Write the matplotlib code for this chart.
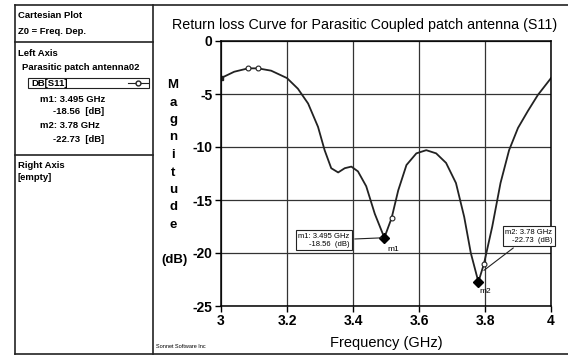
import matplotlib
matplotlib.use("Agg")
import matplotlib.pyplot as plt
from matplotlib.lines import Line2D
from matplotlib.patches import Rectangle

plt.rcParams["font.family"] = ["Liberation Sans", "DejaVu Sans"]
plt.rcParams["axes.unicode_minus"] = False

# S11 magnitude
freq = [3.00, 3.04, 3.082, 3.112, 3.152, 3.20, 3.233, 3.264, 3.294, 3.314,
        3.334, 3.355, 3.375, 3.395, 3.415, 3.44, 3.466, 3.495, 3.517, 3.537,
        3.562, 3.592, 3.622, 3.652, 3.682, 3.712, 3.737, 3.757, 3.78, 3.797,
        3.822, 3.847, 3.873, 3.90, 3.93, 3.96, 4.00]
s11 = [-3.5, -2.9, -2.58, -2.58, -2.8, -3.5, -4.5, -5.9, -8.1, -10.3,
       -12.0, -12.4, -12.0, -11.85, -12.3, -13.7, -16.3, -18.56, -16.7, -14.1,
       -11.7, -10.6, -10.3, -10.6, -11.5, -13.4, -16.6, -20.0, -22.73, -21.0,
       -17.5, -13.4, -10.3, -8.2, -6.6, -5.1, -3.5]

# sample-point circles drawn by the tool
circ_f = [3.082, 3.112, 3.517, 3.797]
circ_v = [-2.58, -2.58, -16.7, -21.0]

markers = [("m1", 3.495, -18.56), ("m2", 3.78, -22.73)]
xticks = [3, 3.2, 3.4, 3.6, 3.8, 4]
yticks = [0, -5, -10, -15, -20, -25]

W, H = 568, 356
fig = plt.figure(figsize=(W / 100, H / 100), dpi=100)


def fx(px):
    return px / W


def fy(py):
    return 1 - py / H


ax = fig.add_axes([fx(221), fy(306), fx(551) - fx(221), fy(41) - fy(306)])
ax.plot(freq, s11, color="#222222", lw=1.3)
ax.plot(circ_f, circ_v, ls="none", marker="o", ms=3.5, mfc="white",
        mec="#222222", mew=0.8)
ax.plot([freq[0]], [s11[0]], ls="none", marker="s", ms=3, color="#222222")
for name, f, v in markers:
    ax.plot([f], [v], ls="none", marker="D", ms=5.5, color="black")

ax.set_xlim(3, 4)
ax.set_ylim(-25, 0)
ax.set_xticks(xticks)
ax.set_xticklabels(["3", "3.2", "3.4", "3.6", "3.8", "4"])
ax.set_yticks(yticks)
ax.tick_params(labelsize=10, length=4, width=1, direction="out", pad=2)
for lab in ax.get_xticklabels() + ax.get_yticklabels():
    lab.set_fontweight("bold")
ax.grid(True, color="#333333", lw=0.9)
for s in ax.spines.values():
    s.set_linewidth(1.1)

# marker callouts
ax.annotate("m1: 3.495 GHz\n-18.56  (dB)", xy=(3.495, -18.56), xytext=(3.311, -18.8),
            ha="center", va="center", fontsize=5.5, multialignment="right",
            bbox=dict(boxstyle="square,pad=0.3", fc="white", ec="#222222", lw=0.8),
            arrowprops=dict(arrowstyle="-", color="#222222", lw=0.8))
ax.annotate("m2: 3.78 GHz\n-22.73  (dB)", xy=(3.79, -21.8), xytext=(3.933, -18.4),
            ha="center", va="center", fontsize=5.5, multialignment="right",
            bbox=dict(boxstyle="square,pad=0.3", fc="white", ec="#222222", lw=0.8),
            arrowprops=dict(arrowstyle="-", color="#222222", lw=0.8))
ax.text(3.503, -19.7, "m1", fontsize=6, ha="left", va="center")
ax.text(3.783, -23.6, "m2", fontsize=6, ha="left", va="center")

# titles and labels
fig.text(fx(365), fy(25), "Return loss Curve for Parasitic Coupled patch antenna (S11)",
         ha="center", va="center", fontsize=10.3)
fig.text(fx(386), fy(343), "Frequency (GHz)", ha="center", va="center", fontsize=10.5)
for i, ch in enumerate("Magnitude"):
    fig.text(fx(173), fy(85 + i * 17.5), ch, ha="center", va="center",
             fontsize=9.5, fontweight="bold")
fig.text(fx(174), fy(260), "(dB)", ha="center", va="center", fontsize=9.5,
         fontweight="bold")
fig.text(fx(156), fy(346), "Sonnet Software Inc", ha="left", va="center", fontsize=4)

# outer frame and info panel
frame = [((15, 15), (5, 354)), ((15, 568), (5, 5)), ((15, 568), (354, 354)),
         ((153, 153), (5, 354)), ((15, 153), (42, 42)), ((15, 153), (155, 155))]
for xs, ys in frame:
    fig.add_artist(Line2D([fx(xs[0]), fx(xs[1])], [fy(ys[0]), fy(ys[1])],
                          color="#222222", lw=1.2))

panel = [(18, 15, "Cartesian Plot"), (18, 31, "Z0 = Freq. Dep."),
         (18, 53, "Left Axis"), (22, 67, "Parasitic patch antenna02"),
         (31, 83, "DB[S11]"),
         (40, 99, "m1: 3.495 GHz"), (53, 112, "-18.56  [dB]"),
         (40, 126, "m2: 3.78 GHz"), (53, 139, "-22.73  [dB]"),
         (18, 165, "Right Axis"), (18, 178, "[empty]")]
for x, y, t in panel:
    fig.text(fx(x), fy(y), t, ha="left", va="center", fontsize=6.8, fontweight="bold")

fig.add_artist(Rectangle((fx(28), fy(88)), fx(149) - fx(28), fy(78) - fy(88),
                         fill=False, ec="#222222", lw=0.8))
fig.add_artist(Line2D([fx(128), fx(138), fx(148)], [fy(83)] * 3, color="#222222",
                      lw=0.8, marker="o", markevery=[1], ms=3.5, mfc="white"))

fig.savefig("out.png", dpi=100)
